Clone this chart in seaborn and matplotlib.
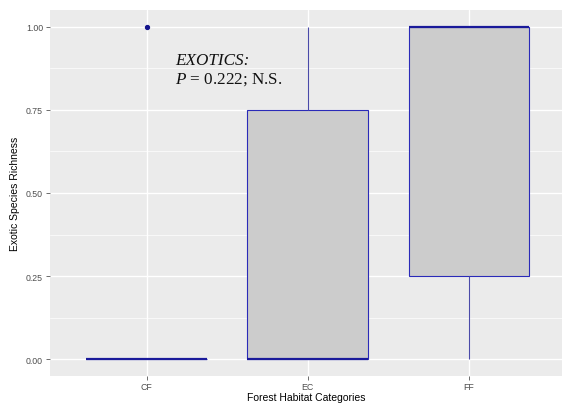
import matplotlib
matplotlib.use("Agg")
import matplotlib.pyplot as plt
import numpy as np
import pandas as pd
import seaborn as sns

# Exotic species richness per plot, by forest habitat category
habitats = ["CF", "EC", "FF"]
cf_richness = [0, 0, 0, 0, 0, 0, 0, 1]
ec_richness = [0, 0, 0, 0, 1, 1]
ff_richness = [0, 0, 1, 1, 1, 1]
y_ticks = [0.00, 0.25, 0.50, 0.75, 1.00]
y_tick_labels = ["0.00", "0.25", "0.50", "0.75", "1.00"]

df = pd.DataFrame({
    "habitat": (["CF"] * len(cf_richness) + ["EC"] * len(ec_richness)
                + ["FF"] * len(ff_richness)),
    "richness": cf_richness + ec_richness + ff_richness,
})

sns.set_theme(style="darkgrid")
plt.rcParams["font.family"] = ["Liberation Sans", "DejaVu Sans"]
plt.rcParams["mathtext.fontset"] = "custom"
plt.rcParams["mathtext.it"] = "Liberation Serif:italic"
plt.rcParams["mathtext.rm"] = "Liberation Serif"

fig = plt.figure(figsize=(5.62, 4.06), dpi=100)
ax = fig.add_axes([50 / 562, 29 / 406, 1 - 50 / 562, (377 - 11) / 406])
ax.set_facecolor("#EBEBEB")

edge = "#2A2AB8"
sns.boxplot(
    data=df, x="habitat", y="richness", order=habitats, ax=ax,
    width=0.75, saturation=1, color="#CCCCCC", whis=1.5,
    linewidth=0.8, linecolor=edge,
    boxprops=dict(facecolor="#CCCCCC", edgecolor=edge, linewidth=0.8),
    medianprops=dict(color="#1A1A9A", linewidth=1.6),
    whiskerprops=dict(color="#4A4AA8", linewidth=0.8),
    capprops=dict(linewidth=0),
    flierprops=dict(marker="o", markersize=2.8, markerfacecolor="#14148C",
                    markeredgecolor="#14148C"),
)

ax.set_xlim(-0.6, (562 - 147) / 161)
ax.set_ylim(-0.05, 1.05)
ax.set_yticks(y_ticks)
ax.set_yticklabels(y_tick_labels)
ax.set_yticks([0.125, 0.375, 0.625, 0.875], minor=True)

ax.grid(which="major", color="white", linewidth=1.0)
ax.grid(which="minor", axis="y", color="white", linewidth=0.5)
ax.set_axisbelow(True)
for s in ax.spines.values():
    s.set_visible(False)

ax.tick_params(axis="both", which="major", length=3, width=0.6, color="#555555",
               labelsize=6.3, labelcolor="#4D4D4D", pad=2, bottom=True, left=True)
ax.tick_params(axis="x", which="major", pad=1)
ax.tick_params(axis="y", which="minor", length=0)

ax.set_xlabel("Forest Habitat Categories", fontsize=7.5, color="black", labelpad=1)
ax.set_ylabel("Exotic Species Richness", fontsize=7.5, color="black", labelpad=4)

ax.text(0.174, 0.888, "EXOTICS:", family="Liberation Serif", style="italic",
        fontsize=12.3, color="#111111", ha="left", va="baseline")
ax.text(0.174, 0.833, r"$P$ = 0.222; N.S.", family="Liberation Serif",
        fontsize=12.3, color="#111111", ha="left", va="baseline")

fig.savefig("out.png", dpi=100)
